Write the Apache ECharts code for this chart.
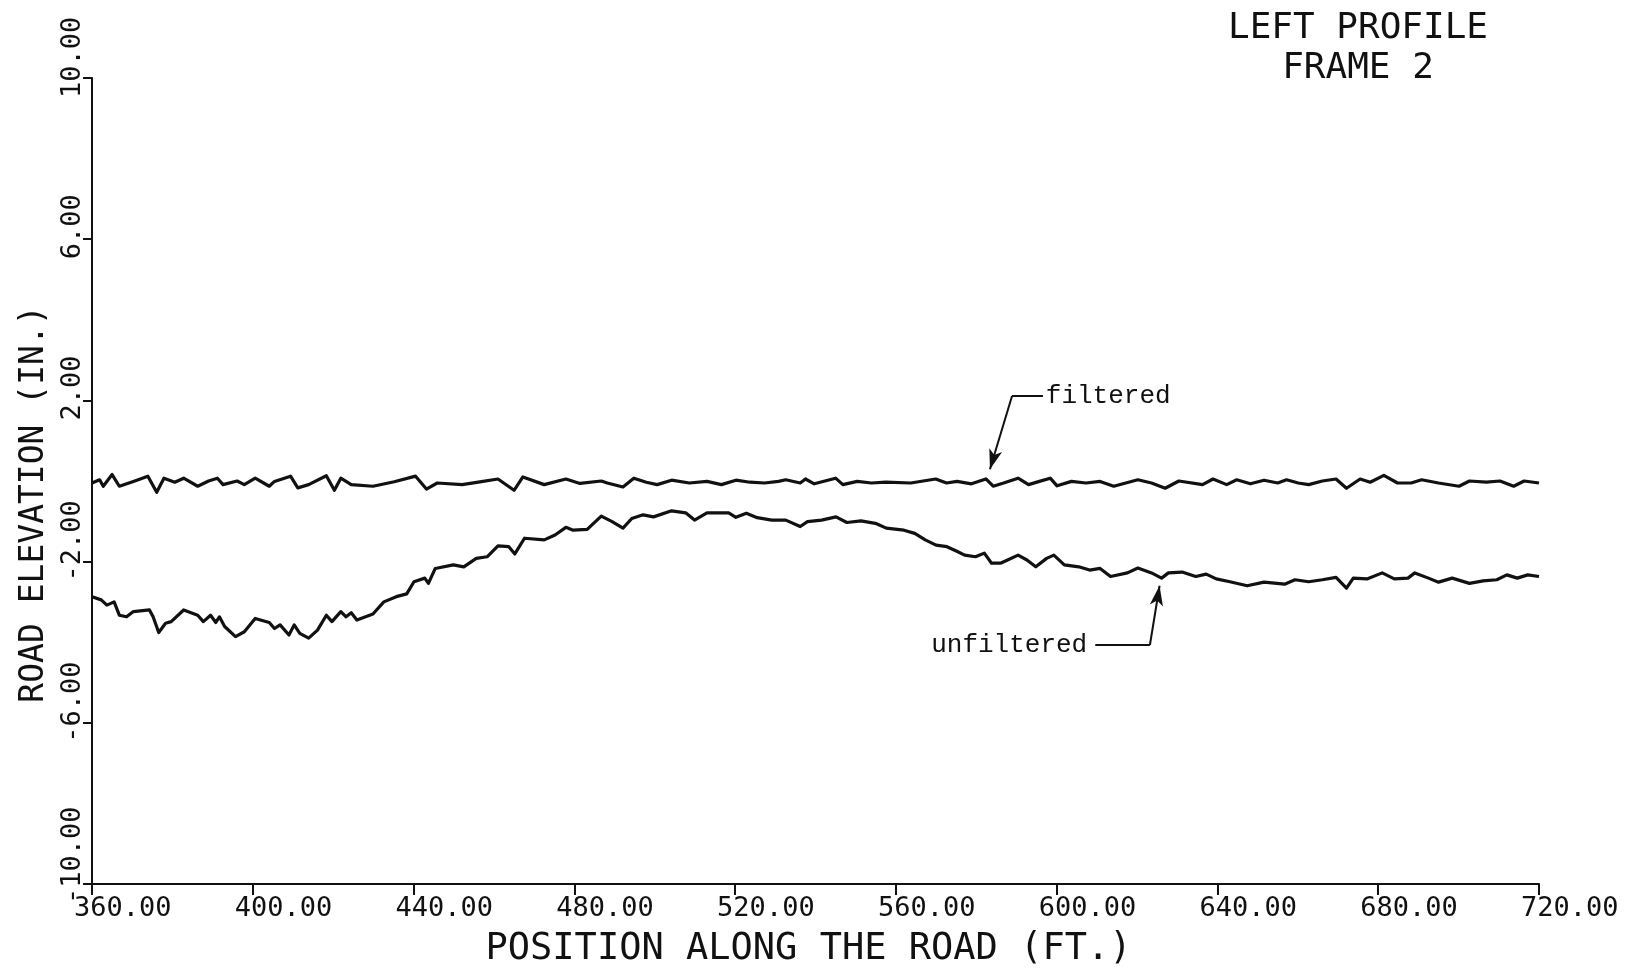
<!DOCTYPE html>
<html>
<head>
<meta charset="utf-8">
<script src="https://cdn.jsdelivr.net/npm/echarts@6/dist/echarts.min.js"></script>
<style>
html,body{margin:0;padding:0;background:#fff;}
#chart{width:1636px;height:975px;}
</style>
</head>
<body>
<div id="chart"></div>
<script>
// ---- text ----
const titleLines = ['LEFT PROFILE', 'FRAME 2'];
const xAxisTitle = 'POSITION ALONG THE ROAD (FT.)';
const yAxisTitle = 'ROAD ELEVATION (IN.)';
const noteFiltered = 'filtered';
const noteUnfiltered = 'unfiltered';

// ---- axes (tick labels come from these) ----
const xRange = [360, 720];
const xStep = 40;
const yRange = [-10, 10];
const yStep = 4;

// ---- series: position along the road (ft) / elevation (in) ----
const filteredPos = [360.0, 361.9, 362.8, 365.0, 366.8, 370.3, 373.9, 376.1, 377.9, 380.6,
  382.8, 386.3, 389.0, 391.2, 392.6, 396.1, 397.9, 400.6, 404.1, 405.4,
  409.4, 411.2, 413.9, 418.3, 420.3, 421.9, 424.5, 429.9, 435.2, 440.5,
  443.2, 445.9, 452.1, 456.5, 461.0, 465.0, 467.2, 472.5, 477.9, 481.4,
  486.7, 488.2, 492.1, 494.8, 497.9, 500.6, 504.2, 508.6, 513.0, 516.6,
  520.2, 523.7, 527.3, 530.8, 532.6, 536.2, 537.5, 539.7, 545.0, 546.8,
  550.4, 553.9, 557.5, 563.7, 569.9, 572.6, 575.2, 578.8, 582.4, 584.2,
  586.8, 590.4, 593.0, 595.7, 598.4, 600.1, 603.7, 607.3, 610.8, 614.2,
  620.2, 623.6, 627.0, 630.4, 636.3, 638.9, 642.3, 644.8, 648.2, 651.6,
  655.0, 657.2, 660.1, 662.7, 666.1, 669.5, 672.1, 675.5, 678.0, 681.4,
  684.8, 688.2, 690.8, 695.0, 700.1, 702.7, 706.9, 710.3, 713.7, 716.3, 720.0];
const filteredElev = [-0.05, 0.03, -0.13, 0.16, -0.13, -0.01, 0.12, -0.28, 0.07, -0.03,
  0.07, -0.13, 0.00, 0.07, -0.09, 0.00, -0.09, 0.07, -0.13, -0.01,
  0.12, -0.17, -0.09, 0.13, -0.23, 0.07, -0.09, -0.13, -0.02, 0.12,
  -0.20, -0.05, -0.09, -0.02, 0.05, -0.23, 0.10, -0.09, 0.05, -0.06,
  0.00, -0.05, -0.15, 0.07, -0.03, -0.09, 0.02, -0.05, -0.01, -0.09,
  0.02, -0.03, -0.05, -0.01, 0.03, -0.05, 0.05, -0.07, 0.07, -0.09,
  -0.01, -0.05, -0.03, -0.05, 0.05, -0.05, -0.01, -0.07, 0.05, -0.13,
  -0.05, 0.07, -0.09, -0.01, 0.07, -0.12, -0.01, -0.05, -0.01, -0.13,
  0.03, -0.05, -0.18, 0.00, -0.09, 0.05, -0.09, 0.03, -0.07, 0.02,
  -0.05, 0.03, -0.05, -0.09, 0.00, 0.05, -0.18, 0.05, -0.03, 0.14,
  -0.05, -0.05, 0.03, -0.05, -0.13, 0.00, -0.03, 0.00, -0.13, 0.00, -0.05];

const unfilteredPos = [360.0, 362.3, 363.7, 365.5, 366.8, 368.6, 370.3, 374.3, 375.2, 376.6,
  378.3, 379.7, 382.8, 386.3, 387.7, 389.5, 390.8, 391.7, 393.0, 395.7,
  397.9, 400.6, 404.1, 405.4, 406.8, 409.0, 410.3, 411.7, 413.9, 416.1,
  418.3, 419.7, 421.9, 423.2, 424.5, 425.9, 429.9, 432.6, 435.7, 438.3,
  440.1, 442.8, 443.7, 445.4, 449.9, 452.5, 455.6, 458.3, 461.0, 463.7,
  465.2, 467.6, 472.5, 475.2, 477.9, 479.7, 483.2, 486.7, 489.4, 492.1,
  494.3, 497.1, 499.7, 504.2, 507.7, 509.9, 513.0, 518.4, 520.2, 522.8,
  525.5, 529.1, 532.6, 536.2, 538.0, 541.5, 545.1, 547.8, 551.3, 554.9,
  557.6, 562.0, 564.7, 567.3, 570.0, 572.7, 575.3, 577.1, 579.8, 582.0,
  583.8, 586.0, 587.8, 590.4, 592.6, 594.8, 597.5, 599.3, 601.9, 605.5,
  608.2, 610.8, 613.4, 617.6, 620.2, 623.6, 626.1, 627.8, 631.2, 634.6,
  637.2, 639.7, 643.1, 647.4, 651.6, 656.7, 659.3, 662.7, 666.1, 669.5,
  672.1, 673.8, 677.2, 681.0, 684.0, 687.4, 689.1, 692.5, 695.0, 698.4,
  702.7, 706.1, 709.5, 712.0, 714.6, 717.2, 720.0];
const unfilteredElev = [-2.87, -2.95, -3.08, -3.00, -3.33, -3.37, -3.24, -3.20, -3.37, -3.76,
  -3.53, -3.49, -3.20, -3.33, -3.49, -3.33, -3.51, -3.37, -3.61, -3.86,
  -3.74, -3.41, -3.51, -3.66, -3.57, -3.82, -3.57, -3.78, -3.90, -3.70,
  -3.33, -3.49, -3.24, -3.37, -3.27, -3.45, -3.30, -3.00, -2.87, -2.80,
  -2.50, -2.41, -2.54, -2.17, -2.08, -2.13, -1.92, -1.88, -1.61, -1.63,
  -1.81, -1.42, -1.46, -1.34, -1.15, -1.22, -1.20, -0.87, -1.01, -1.17,
  -0.93, -0.84, -0.89, -0.74, -0.79, -0.97, -0.79, -0.79, -0.90, -0.80,
  -0.91, -0.97, -0.97, -1.13, -1.01, -0.97, -0.89, -1.03, -0.99, -1.05,
  -1.17, -1.22, -1.30, -1.46, -1.59, -1.63, -1.75, -1.84, -1.88, -1.79,
  -2.04, -2.04, -1.96, -1.84, -1.96, -2.13, -1.92, -1.84, -2.08, -2.13,
  -2.21, -2.17, -2.37, -2.28, -2.16, -2.28, -2.41, -2.28, -2.26, -2.37,
  -2.31, -2.43, -2.50, -2.60, -2.51, -2.56, -2.45, -2.50, -2.45, -2.39,
  -2.66, -2.41, -2.43, -2.28, -2.43, -2.41, -2.28, -2.41, -2.51, -2.41,
  -2.54, -2.48, -2.45, -2.33, -2.41, -2.33, -2.37];

function zip(a, b) { return a.map((v, i) => [v, b[i]]); }

const MONO = 'DejaVu Sans Mono';
const TYPE = 'Liberation Mono';
const INK = '#111';

const chart = echarts.init(document.getElementById('chart'), null, {renderer: 'canvas'});
chart.setOption({
  animation: false,
  backgroundColor: '#fff',
  title: {
    text: titleLines.join('\n'),
    left: 1353,
    top: 4,
    textAlign: 'center',
    textStyle: {fontFamily: MONO, fontSize: 36, fontWeight: 'normal', color: INK, lineHeight: 40}
  },
  grid: {left: 92, right: 97, top: 78, bottom: 91, containLabel: false},
  xAxis: {
    type: 'value', min: xRange[0], max: xRange[1], interval: xStep,
    name: xAxisTitle, nameLocation: 'middle', nameGap: 47,
    nameTextStyle: {fontFamily: MONO, fontSize: 37, color: INK, padding: [0, 14, 0, 0]},
    axisLine: {show: true, onZero: false, lineStyle: {color: INK, width: 2}},
    axisTick: {show: true, length: 11, inside: false, lineStyle: {color: INK, width: 2}},
    splitLine: {show: false},
    axisLabel: {
      show: true, interval: 0, showMinLabel: true, showMaxLabel: true,
      fontFamily: MONO, fontSize: 27, color: INK, margin: 11,
      align: 'left', padding: [0, 0, 0, -18],
      formatter: v => v.toFixed(2)
    }
  },
  yAxis: {
    type: 'value', min: yRange[0], max: yRange[1], interval: yStep,
    name: yAxisTitle, nameLocation: 'middle', nameGap: 41, nameRotate: 90,
    nameTextStyle: {fontFamily: MONO, fontSize: 33, color: INK, padding: [0, 46, 0, 0]},
    axisLine: {show: true, onZero: false, lineStyle: {color: INK, width: 2}},
    axisTick: {show: true, length: 9, inside: false, lineStyle: {color: INK, width: 2}},
    splitLine: {show: false},
    axisLabel: {
      show: true, interval: 0, showMinLabel: true, showMaxLabel: true,
      rotate: 90, align: 'left', verticalAlign: 'bottom', padding: [0, 0, 0, -20],
      fontFamily: MONO, fontSize: 27, color: INK, margin: 6,
      formatter: v => v.toFixed(2)
    }
  },
  series: [
    {
      name: noteUnfiltered, type: 'line', data: zip(unfilteredPos, unfilteredElev),
      showSymbol: false, symbol: 'none', clip: true,
      lineStyle: {color: INK, width: 3.2, join: 'round'},
      emphasis: {disabled: true}
    },
    {
      name: noteFiltered, type: 'line', data: zip(filteredPos, filteredElev),
      showSymbol: false, symbol: 'none', clip: true,
      lineStyle: {color: INK, width: 3.2, join: 'round'},
      emphasis: {disabled: true},
      markLine: {
        silent: true, animation: false,
        symbol: ['none', 'none'], symbolSize: [10, 20],
        lineStyle: {color: INK, width: 2, type: 'solid'},
        label: {show: false},
        emphasis: {disabled: true},
        data: [
          [{coord: [596.6, 2.11]}, {coord: [588.9, 2.11]}],
          [{coord: [588.9, 2.11]}, {coord: [583.4, 0.29], symbol: 'arrow'}],
          [{coord: [609.6, -4.07]}, {coord: [623.2, -4.07]}],
          [{coord: [623.2, -4.07]}, {coord: [625.6, -2.60], symbol: 'arrow'}]
        ]
      },
      markPoint: {
        silent: true, animation: false,
        symbol: 'circle', symbolSize: 0,
        label: {show: true, formatter: '{b}', fontFamily: TYPE, fontSize: 26, color: INK},
        data: [
          {name: noteFiltered, coord: [597.3, 2.11], label: {position: 'right', distance: 0}},
          {name: noteUnfiltered, coord: [607.6, -4.07], label: {position: 'left', distance: 0}}
        ]
      }
    }
  ]
});
</script>
</body>
</html>
